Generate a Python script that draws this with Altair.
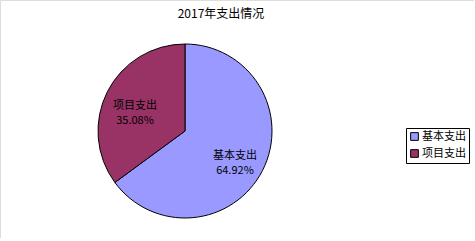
import altair as alt
import pandas as pd

# 2017 spending breakdown (percent of total)
categories = ["基本支出", "项目支出"]
shares = [64.92, 35.08]
colors = ["#9999FF", "#993366"]
title_text = "2017年支出情况"

FONT = "Noto Sans CJK SC"
CX, CY, R = 185, 131, 87

df = pd.DataFrame({"category": categories, "share": shares, "order": [0, 1]})

base = alt.Chart(df).encode(
    theta=alt.Theta("share:Q", stack=True),
    order=alt.Order("order:Q"),
)

pie = base.mark_arc(
    outerRadius=R, stroke="black", strokeWidth=1
).encode(
    x=alt.value(CX),
    y=alt.value(CY),
    color=alt.Color(
        "category:N",
        scale=alt.Scale(domain=categories, range=colors),
        sort=categories,
        legend=alt.Legend(
            title=None,
            orient="none",
            legendX=406,
            legendY=128,
            strokeColor="black",
            padding=3,
            symbolType="square",
            symbolSize=60,
            symbolStrokeColor="black",
            symbolStrokeWidth=1,
            symbolOpacity=1,
            labelFont=FONT,
            labelFontSize=11,
            labelColor="black",
            rowPadding=4,
            labelOffset=2,
        ),
    ),
)

labels = base.transform_calculate(
    label="[datum.category, format(datum.share, '.2f') + '%']"
).mark_text(
    radius=56, font=FONT, fontSize=11, color="black", lineHeight=15, baseline="middle"
).encode(
    x=alt.value(CX),
    y=alt.value(CY),
    text="label:N",
)

title = alt.Chart(pd.DataFrame({"t": [title_text]})).mark_text(
    font=FONT, fontSize=12, color="black", align="center", baseline="middle"
).encode(
    x=alt.value(221), y=alt.value(14), text="t:N"
)

chart = alt.layer(pie, labels, title).properties(
    width=474, height=238, padding=0, autosize=alt.AutoSizeParams(type="none")
).configure_view(stroke=None).configure(background="white")

chart.save("out.html", embed_options={"renderer": "svg", "actions": False})
